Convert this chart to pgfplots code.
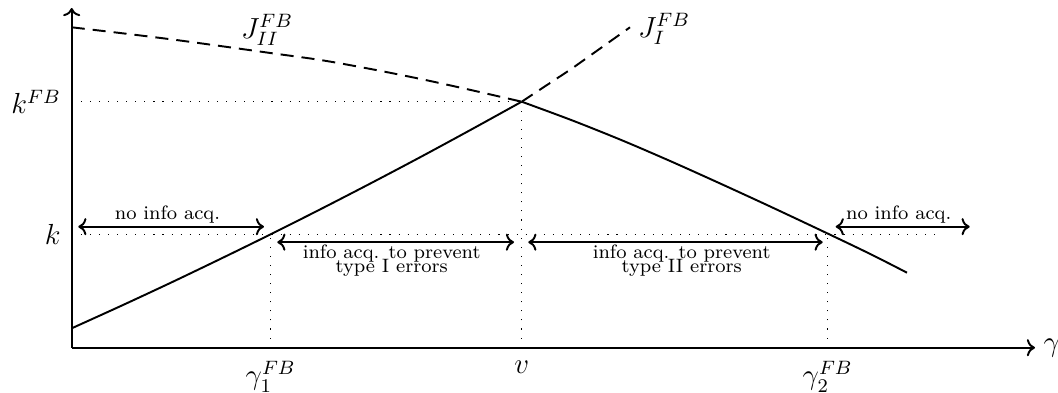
\documentclass[border=0pt]{standalone}
\usepackage{pgfplots}
\pgfplotsset{compat=1.18}
\usetikzlibrary{arrows.meta}

\begin{document}
\begin{tikzpicture}[
  dotline/.style={line width=0.45pt, dash pattern=on 0.45pt off 3.3pt},
  longdash/.style={thick, dash pattern=on 5.4pt off 3.3pt},
  ann/.style={thick, <->},
]
\begin{axis}[
  x=41.3pt, y=41.3pt,
  xmin=0, xmax=9.633, ymin=0, ymax=3.397,
  axis lines=left,
  axis line style={thick, ->},
  xtick={1.99,4.5,7.56},
  xticklabels={$\gamma_1^{FB}$, $v$, $\gamma_2^{FB}$},
  ytick={1.135,2.46},
  yticklabels={$k$, $k^{FB}$},
  major tick length=0pt,
  ticklabel style={font=\large},
  xticklabel style={yshift=-2pt},
  yticklabel style={xshift=-1pt},
  xlabel={$\gamma$},
  xlabel style={font=\large, at={(axis description cs:1,0)}, anchor=west},
  clip=false,
]
% J_I: solid up to v, dashed beyond
\addplot[thick, smooth] coordinates {
  (0,0.194) (0.5,0.421) (1,0.654) (1.5,0.894) (2,1.139)
  (2.5,1.391) (3,1.649) (3.5,1.913) (4,2.184) (4.5,2.46)
};
\addplot[longdash] coordinates {
  (4.5,2.46) (5,2.79) (5.583,3.204)
};
% J_II: dashed up to v, solid beyond
\addplot[longdash, smooth] coordinates {
  (0,3.204) (0.5,3.145) (1,3.083) (1.5,3.015) (2,2.945) (2.5,2.875)
  (3,2.785) (3.5,2.685) (4,2.575) (4.5,2.46)
};
\addplot[thick, smooth] coordinates {
  (4.5,2.46) (5,2.275) (5.5,2.075) (6,1.86) (6.5,1.635)
  (7,1.405) (7.563,1.14) (8,0.93) (8.353,0.75)
};

% guide lines
\draw[dotline] (axis cs:0,2.46) -- (axis cs:4.5,2.46);
\draw[dotline] (axis cs:0,1.135) -- (axis cs:8.63,1.135);
\draw[dotline] (axis cs:1.99,0) -- (axis cs:1.99,1.135);
\draw[dotline] (axis cs:4.5,0) -- (axis cs:4.5,2.46);
\draw[dotline] (axis cs:7.56,0) -- (axis cs:7.56,1.135);

% region arrows
\draw[ann] (axis cs:0.066,1.21) -- (axis cs:1.923,1.21);
\node[font=\footnotesize, anchor=base] at (axis cs:0.958,1.277) {no info acq.};
\draw[ann] (axis cs:7.64,1.21) -- (axis cs:8.98,1.21);
\node[font=\footnotesize, anchor=base] at (axis cs:8.27,1.277) {no info acq.};
\draw[ann] (axis cs:2.056,1.055) -- (axis cs:4.423,1.055);
\node[font=\footnotesize, align=center, anchor=north, inner sep=0pt] at (axis cs:3.2,1.038)
  {info acq. to prevent\\[-3.5pt] type I errors};
\draw[ann] (axis cs:4.566,1.055) -- (axis cs:7.51,1.055);
\node[font=\footnotesize, align=center, anchor=north, inner sep=0pt] at (axis cs:6.1,1.038)
  {info acq. to prevent\\[-3.5pt] type II errors};

% curve labels
\node[font=\large] at (axis cs:1.953,3.177) {$J_{II}^{FB}$};
\node[font=\large] at (axis cs:5.923,3.187) {$J_{I}^{FB}$};

\coordinate (bl) at (axis cs:-0.717,-0.453);
\coordinate (tr) at (axis cs:9.863,3.477);
\end{axis}
\pgfresetboundingbox
\path[use as bounding box] (bl) rectangle (tr);
\end{tikzpicture}
\end{document}
